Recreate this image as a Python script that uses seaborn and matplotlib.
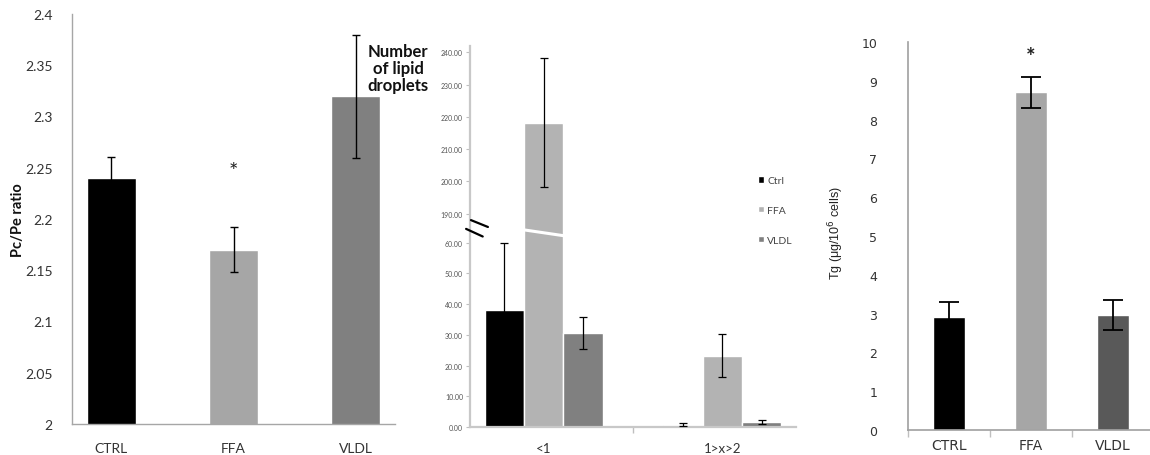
import numpy as np
import pandas as pd
import matplotlib
matplotlib.use("Agg")
import matplotlib.pyplot as plt
import seaborn as sns

# ---- Pc/Pe ratio ----
groups = ["CTRL", "FFA", "VLDL"]
pcpe_mean = [2.24, 2.17, 2.32]
pcpe_sem = [0.02, 0.022, 0.06]
pcpe_ticks = [2.0, 2.05, 2.1, 2.15, 2.2, 2.25, 2.3, 2.35, 2.4]

# ---- number of lipid droplets per size class ----
size_classes = ["<1", "1>x>2"]
treatments = ["Ctrl", "FFA", "VLDL"]
droplets_ctrl = [38.2, 0.7]
droplets_ffa = [218.2, 23.2]
droplets_vldl = [30.6, 1.7]
droplets_ctrl_err = [22.0, 0.5]
droplets_ffa_err = [20.0, 7.0]
droplets_vldl_err = [5.2, 0.6]
droplet_ticks = [0, 10, 20, 30, 40, 50, 60, 190, 200, 210, 220, 230, 240]

# ---- triglyceride content ----
tg_mean = [2.92, 8.70, 2.96]
tg_sem = [0.39, 0.40, 0.39]
tg_ticks = list(range(0, 11))

sns.set_theme(style="white")
plt.rcParams["font.family"] = ["Lato", "DejaVu Sans"]

fig = plt.figure(figsize=(11.5, 4.56), dpi=100)
W, H = 1150.0, 456.0


def box(left, top, right, bottom):
    return [left / W, 1 - bottom / H, (right - left) / W, (bottom - top) / H]


def add_errorbars(ax, containers, errors, capsize, lw=1.0):
    for cont, err in zip(containers, errors):
        xs = [p.get_x() + p.get_width() / 2 for p in cont]
        ys = [p.get_height() for p in cont]
        ax.errorbar(xs, ys, yerr=err, fmt="none", ecolor="black",
                    elinewidth=lw, capsize=capsize, capthick=lw, zorder=5)


def boundary_ticks(ax, n, length):
    ax.set_xticks(np.arange(-0.5, n, 1.0), minor=True)
    ax.tick_params(axis="x", which="minor", bottom=True, length=length,
                   width=1, color="#bfbfbf", direction="out")
    ax.tick_params(axis="x", which="major", length=0)


# ===================== Pc/Pe ratio =====================
ax1 = fig.add_axes(box(72, 15, 395, 425))
sns.barplot(x=groups, y=pcpe_mean, hue=groups, legend=False,
            palette=["#000000", "#a6a6a6", "#808080"], width=0.4,
            saturation=1, ax=ax1, errorbar=None)
add_errorbars(ax1, [[c[0]] for c in ax1.containers],
              [[s] for s in pcpe_sem], capsize=3)
ax1.set_ylim(pcpe_ticks[0], pcpe_ticks[-1])
ax1.set_yticks(pcpe_ticks)
ax1.set_yticklabels([f"{t:g}" for t in pcpe_ticks])
ax1.tick_params(axis="both", length=0, labelsize=10, labelcolor="#333333")
ax1.tick_params(axis="y", pad=14)
ax1.tick_params(axis="x", pad=13)
for side in ["top", "right"]:
    ax1.spines[side].set_visible(False)
for side in ["left", "bottom"]:
    ax1.spines[side].set_color("#a6a6a6")
    ax1.spines[side].set_linewidth(1.0)
ax1.set_xlabel("")
ax1.set_ylabel("")
ffa1 = ax1.containers[1][0]
ax1.text(ffa1.get_x() + ffa1.get_width() / 2, 2.247, "*", ha="center",
         va="center", fontsize=16, color="#222222")
fig.text(18 / W, 1 - 220 / H, "Pc/Pe ratio", rotation=90, ha="center",
         va="center", fontsize=10.5, fontweight="bold", color="#111111")

# ===================== lipid droplets (broken axis) =====================
LOW_TOP, HIGH_BOT = 60.0, 190.0
S_LOW, S_GAP, S_HIGH = 3.067, 29.0 / 130.0, 3.22
V_LOW = LOW_TOP * S_LOW
V_HIGH = V_LOW + (HIGH_BOT - LOW_TOP) * S_GAP


def fwd(y):
    y = np.asarray(y, dtype=float)
    return np.where(y <= LOW_TOP, y * S_LOW,
                    np.where(y <= HIGH_BOT, V_LOW + (y - LOW_TOP) * S_GAP,
                             V_HIGH + (y - HIGH_BOT) * S_HIGH))


def inv(v):
    v = np.asarray(v, dtype=float)
    return np.where(v <= V_LOW, v / S_LOW,
                    np.where(v <= V_HIGH, LOW_TOP + (v - V_LOW) / S_GAP,
                             HIGH_BOT + (v - V_HIGH) / S_HIGH))


droplets = pd.DataFrame({
    "size": size_classes * 3,
    "treatment": [t for t in treatments for _ in size_classes],
    "count": droplets_ctrl + droplets_ffa + droplets_vldl,
})
ax2 = fig.add_axes(box(470, 47, 796, 428))
sns.barplot(data=droplets, x="size", y="count", hue="treatment",
            hue_order=treatments, order=size_classes,
            palette=["#000000", "#b3b3b3", "#808080"], width=0.66,
            saturation=1, ax=ax2, errorbar=None)
ax2.set_yscale("function", functions=(fwd, inv))
ax2.set_ylim(0, 242)
add_errorbars(ax2, ax2.containers,
              [droplets_ctrl_err, droplets_ffa_err, droplets_vldl_err],
              capsize=3, lw=0.9)
ax2.set_yticks(droplet_ticks)
ax2.set_yticklabels([f"{t:.2f}" for t in droplet_ticks])
ax2.yaxis.set_minor_locator(matplotlib.ticker.NullLocator())
ax2.tick_params(axis="y", which="major", left=True, length=3, width=0.8,
                color="#bfbfbf", labelsize=5, labelcolor="#555555", pad=2)
ax2.tick_params(axis="x", labelsize=9.5, labelcolor="#333333", pad=11)
boundary_ticks(ax2, len(size_classes), 4)
for side in ["top", "right"]:
    ax2.spines[side].set_visible(False)
for side in ["left", "bottom"]:
    ax2.spines[side].set_color("#c8c8c8")
    ax2.spines[side].set_linewidth(1.6)
ax2.set_xlabel("")
ax2.set_ylabel("")

# white cut across the tall bar where the axis is broken
tall = ax2.containers[1][0]
ax2.plot([tall.get_x() - 0.005, tall.get_x() + tall.get_width() + 0.005],
         [118, 91], color="white", lw=2.2, zorder=4, solid_capstyle="butt")
# break marks on the value axis
for (x0, y0, x1, y1) in [(0.003, 0.543, 0.055, 0.525),
                         (-0.012, 0.520, 0.039, 0.500)]:
    ax2.plot([x0, x1], [y0, y1], transform=ax2.transAxes, color="black",
             lw=1.6, clip_on=False, zorder=6)

handles, labels = ax2.get_legend_handles_labels()
ax2.legend(handles, labels, loc="upper left", bbox_to_anchor=(0.87, 0.67),
           frameon=False, fontsize=7.5, handlelength=0.6, handleheight=0.6,
           handletextpad=0.3, labelspacing=2.0, borderaxespad=0)
for txt in ax2.get_legend().get_texts():
    txt.set_color("#444444")
fig.text(398 / W, 1 - 69 / H, "Number\nof lipid\ndroplets", ha="center",
         va="center", fontsize=12, fontweight="bold", color="#111111",
         linespacing=1.1)

# ===================== triglycerides =====================
ax3 = fig.add_axes(box(908, 43, 1154, 431))
sns.barplot(x=groups, y=tg_mean, hue=groups, legend=False,
            palette=["#000000", "#a6a6a6", "#595959"], width=0.4,
            saturation=1, ax=ax3, errorbar=None)
add_errorbars(ax3, [[c[0]] for c in ax3.containers],
              [[s] for s in tg_sem], capsize=7, lw=1.3)
ax3.set_ylim(tg_ticks[0], tg_ticks[-1])
ax3.set_yticks(tg_ticks)
ax3.set_yticklabels([str(t) for t in tg_ticks], family="DejaVu Sans")
ax3.tick_params(axis="y", length=0, labelsize=9, labelcolor="#333333", pad=22)
ax3.tick_params(axis="x", labelsize=10, labelcolor="#333333", pad=6)
for lab in ax3.get_xticklabels():
    lab.set_family("DejaVu Sans")
boundary_ticks(ax3, len(groups), 5)
for side in ["top", "right"]:
    ax3.spines[side].set_visible(False)
for side in ["left", "bottom"]:
    ax3.spines[side].set_color("#a0a0a0")
    ax3.spines[side].set_linewidth(1.2)
ax3.set_xlabel("")
ax3.set_ylabel("")
ffa3 = ax3.containers[1][0]
ax3.text(ffa3.get_x() + ffa3.get_width() / 2, 9.62, "*", ha="center",
         va="center", fontsize=16, fontweight="bold", color="#222222")
fig.text(836 / W, 1 - 233 / H, "Tg (\u03bcg/10$^{6}$ cells)", rotation=90,
         ha="center", va="center", fontsize=9, color="#222222",
         family=["Liberation Sans Narrow", "Liberation Sans", "DejaVu Sans"])

fig.savefig("out.png", dpi=100)
